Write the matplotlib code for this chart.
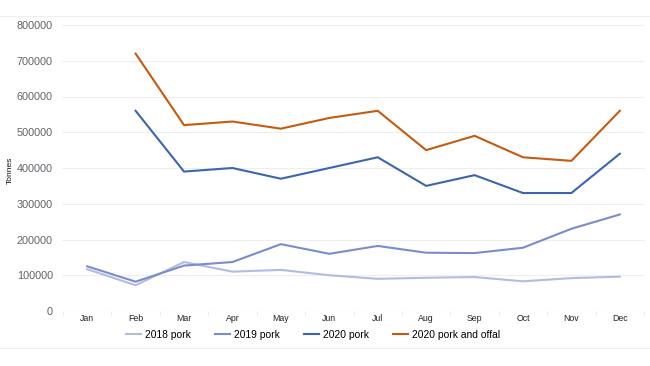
import matplotlib
matplotlib.use("Agg")
import matplotlib.pyplot as plt
from matplotlib.lines import Line2D
import numpy as np

plt.rcParams["font.family"] = ["Liberation Sans", "DejaVu Sans"]

months = ["Jan", "Feb", "Mar", "Apr", "May", "Jun", "Jul", "Aug", "Sep", "Oct", "Nov", "Dec"]
pork_2018 = [117000, 72000, 137000, 110000, 115000, 100000, 90000, 93000, 95000, 83000, 92000, 96000]
pork_2019 = [125000, 82000, 127000, 137000, 187000, 160000, 182000, 163000, 162000, 177000, 230000, 270000]
pork_2020 = [None, 560000, 390000, 400000, 370000, 400000, 430000, 350000, 380000, 330000, 330000, 440000]
offal_2020 = [None, 720000, 520000, 530000, 510000, 540000, 560000, 450000, 490000, 430000, 420000, 560000]
yticks = [0, 100000, 200000, 300000, 400000, 500000, 600000, 700000, 800000]

series = [
    ("2018 pork", pork_2018, "#b3bce0"),
    ("2019 pork", pork_2019, "#7a8ccb"),
    ("2020 pork", pork_2020, "#3e64ad"),
    ("2020 pork and offal", offal_2020, "#c55a11"),
]

fig = plt.figure(figsize=(6.5, 3.66), dpi=100)
ax = fig.add_axes([62/650, 1-311/366, (645-62)/650, (311-25)/366])
x = np.arange(len(months))
for name, vals, col in series:
    v = np.array([np.nan if a is None else a for a in vals], dtype=float)
    ax.plot(x, v, color=col, lw=1.5, label=name, solid_joinstyle="miter")

ax.set_xlim(-0.52, 11.52)
ax.set_ylim(0, 800000)
ax.set_yticks(yticks)
ax.set_yticklabels([str(t) for t in yticks], color="#5f6368", fontsize=7.8)
ax.set_xticks(x)
ax.set_xticklabels(months, fontsize=6.3, color="#222222")
ax.set_xticks(np.arange(-0.5, 12, 1), minor=True)
ax.tick_params(axis="x", which="major", length=0, pad=2)
ax.tick_params(axis="x", which="minor", length=3, color="#e6e6e6")
ax.tick_params(axis="y", length=0, pad=6.5)
ax.grid(axis="y", color="#eeeeee", lw=0.8)
ax.set_axisbelow(True)
for s in ax.spines.values():
    s.set_visible(False)
ax.axhline(0, color="#e0e0e0", lw=0.8)
ax.set_ylabel("Tonnes", fontsize=6, color="#111111")
ax.yaxis.set_label_coords(-0.082, 0.49)

handles = [Line2D([], [], color=c, lw=1.5) for _, _, c in series]
fig.legend(handles, [s[0] for s in series], loc="center", bbox_to_anchor=(313/650, 1-335/366),
           ncol=4, frameon=False, fontsize=7.4, handlelength=1.5, columnspacing=2.3, handletextpad=0.4)

fig.add_artist(Line2D([0, 1], [1-16/366, 1-16/366], color="#eeeeee", lw=0.8))
fig.add_artist(Line2D([0, 1], [1-348/366, 1-348/366], color="#eeeeee", lw=0.8))

fig.savefig("out.png", dpi=100)
